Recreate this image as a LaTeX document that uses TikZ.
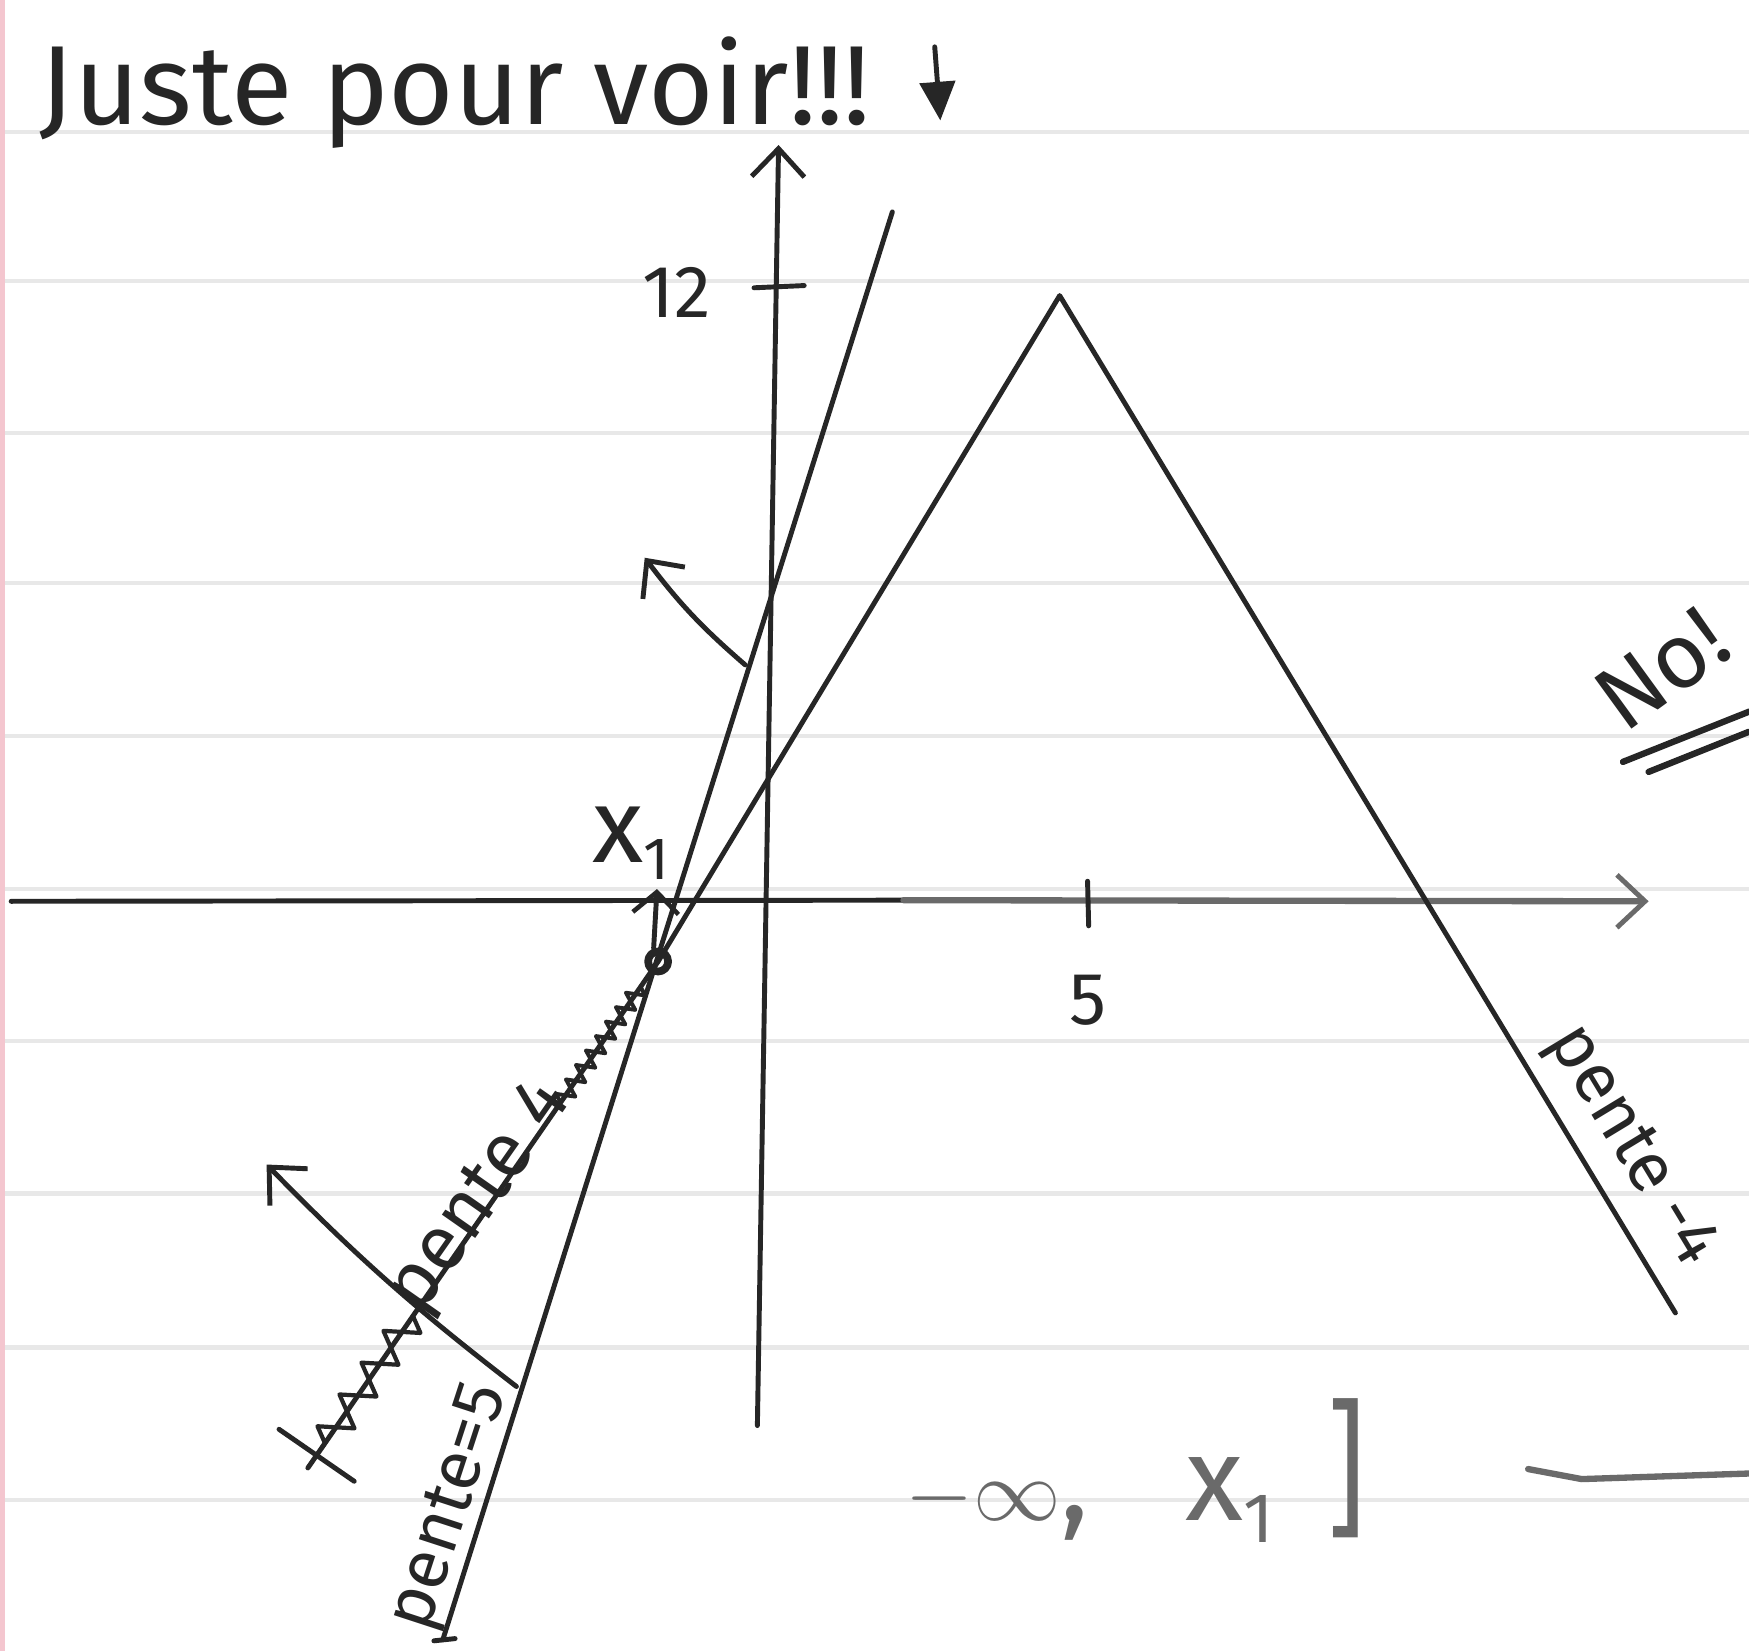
\documentclass[tikz,border=0pt]{standalone}
\usepackage{fontspec}
\setmainfont{Fira Sans}
\usetikzlibrary{arrows.meta,calc,decorations.pathmorphing}
\definecolor{ink}{HTML}{262626}
\definecolor{pencil}{HTML}{6A6A6A}
\definecolor{ruled}{HTML}{E8E8E8}
\definecolor{margin}{HTML}{F4C6CF}
\begin{document}
\begin{tikzpicture}[x=0.011154cm,y=-0.011154cm,
  inkline/.style={draw=ink,line width=1.4pt,line cap=round,line join=round},
  pencilline/.style={draw=pencil,line width=1.8pt,line cap=round,line join=round},
  barb/.style={-{Straight Barb[length=8pt,width=15pt,line width=1.4pt]}},
  smallbarb/.style={-{Straight Barb[length=6pt,width=13pt,line width=1.3pt]}},
  hand/.style={text=ink,inner sep=0pt},
]
\useasboundingbox[fill=white] (0,0) rectangle (1568,1480);
% ruled paper
\foreach \yy in {118,252,388,523,660,797,933,1070,1208,1345}
  \draw[ruled,line width=1.2pt] (0,\yy) -- (1568,\yy);
\draw[margin,line width=1.5pt] (2,0) -- (2,1480);

% key points
\coordinate (yb) at (679,1278);
\coordinate (yt) at (698,130);
\coordinate (xl) at (10,808);
\coordinate (xm) at (810,807);
\coordinate (xr) at (1478,808);
\coordinate (P) at (950,265);
\coordinate (R) at (1502,1177);
\coordinate (A) at (590,862);
\coordinate (C) at (276,1316);
\coordinate (S1) at (800,190);
\coordinate (S2) at (397,1470);

% title
\node[hand,font=\fontsize{32}{36}\selectfont,anchor=base west] (title) at (35,112) {Juste pour voir!!!};
\coordinate (ta) at (838,42);
\coordinate (tb) at (843,108);
\draw[inkline,-{Triangle[length=11pt,width=10pt]}] (ta) -- (tb);

% axes
\draw[inkline,barb] (yb) -- (yt);
\draw[inkline] (xl) -- (xm);
\draw[pencilline,barb] (xm) -- (xr);

% ticks
\coordinate (t12a) at (676,258);
\coordinate (t12b) at (721,256);
\draw[inkline] (t12a) -- (t12b);
\node[hand,font=\fontsize{21}{23}\selectfont] (l12) at (607,262) {12};
\coordinate (t5a) at (975,790);
\coordinate (t5b) at (976,830);
\draw[inkline] (t5a) -- (t5b);
\node[hand,font=\fontsize{21}{23}\selectfont] (l5) at (975,897) {5};

% triangle lines
\draw[inkline] (A) -- (P) -- (R);
\draw[inkline] (S1) -- (S2);
\coordinate (f1) at (389,1471);
\coordinate (f2) at (408,1469);
\draw[inkline] (f1) -- (f2);

% crossed-out continuation
\draw[inkline] (A) -- (C);
\coordinate (w1) at ($(A)!0.05!(C)$);
\coordinate (w2) at ($(A)!0.29!(C)$);
\draw[inkline,line width=1.1pt,decorate,decoration={zigzag,amplitude=2.5pt,segment length=5pt}] (w1) -- (w2);
\coordinate (z1) at ($(A)!0.70!(C)$);
\coordinate (z2) at ($(A)!0.96!(C)$);
\draw[inkline,line width=1.2pt,decorate,decoration={zigzag,amplitude=4.5pt,segment length=11pt}] (z1) -- (z2);
\coordinate (mc) at ($(A)!0.975!(C)$);
\draw[inkline] ($(mc)!13pt!90:(C)$) -- ($(mc)!13pt!-90:(C)$);
\node[hand,font=\fontsize{22}{24}\selectfont,rotate=55] (lp4) at (432,1074) {pente 4};

% point x1
\draw[inkline,line width=2.2pt] (A) circle[radius=0.1cm];
\coordinate (x1a) at (586,850);
\coordinate (x1b) at (589,797);
\draw[inkline,smallbarb] (x1a) -- (x1b);
\node[hand,font=\fontsize{30}{32}\selectfont] (lx1) at (566,756) {x\raisebox{-0.3ex}{\fontsize{17}{17}\selectfont 1}};

% arrows
\coordinate (a1s) at (668,596);
\coordinate (a1e) at (578,500);
\draw[inkline,barb] (a1s) to[bend left=6] (a1e);
\coordinate (a2s) at (463,1243);
\coordinate (a2e) at (239,1044);
\draw[inkline,barb] (a2s) to[bend left=4] (a2e);

% slope labels
\node[hand,font=\fontsize{20}{22}\selectfont,rotate=71.9] (lp5) at (405,1352) {pente=5};
\node[hand,font=\fontsize{20}{22}\selectfont,rotate=-58.8] (lpm4) at (1462,1028) {pente -4};

% No!
\node[hand,font=\fontsize{26}{28}\selectfont,rotate=36] (no) at (1490,600) {No!};
\coordinate (u1a) at (1455,683);
\coordinate (u1b) at (1568,638);
\coordinate (u2a) at (1478,692);
\coordinate (u2b) at (1568,656);
\draw[inkline,line width=1.8pt] (u1a) -- (u1b);
\draw[inkline,line width=1.8pt] (u2a) -- (u2b);

% interval
\node[text=pencil,inner sep=0pt,font=\fontsize{34}{36}\selectfont] (interval) at (1018,1318)
  {$-\infty$,\hspace{0.8em}x\raisebox{-0.35ex}{\fontsize{20}{20}\selectfont 1}\hspace{0.45em}\scalebox{1}[1.25]{]}};
\coordinate (b1) at (1370,1317);
\coordinate (b2) at (1418,1326);
\coordinate (b3) at (1568,1321);
\draw[pencilline] (b1) -- (b2) -- (b3);
\end{tikzpicture}
\end{document}
